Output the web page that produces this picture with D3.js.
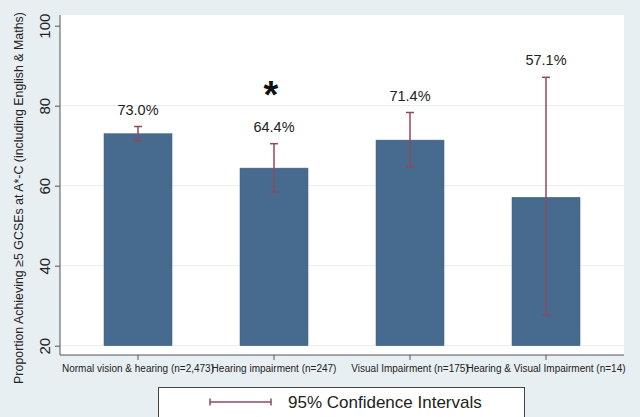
<!DOCTYPE html>
<html><head><meta charset="utf-8">
<script src="https://cdn.jsdelivr.net/npm/d3@7"></script>
<style>body{margin:0;background:#e8eff3;}svg{display:block;font-family:"Liberation Sans",Arial,sans-serif;}</style>
</head><body><svg id="c" width="640" height="417"></svg>
<script>
const categories = ["Normal vision & hearing (n=2,473)", "Hearing impairment (n=247)", "Visual Impairment (n=175)", "Hearing & Visual Impairment (n=14)"];
const values = [73.0, 64.4, 71.4, 57.1];
const ciLow = [71.2, 58.4, 64.7, 27.7];
const ciHigh = [74.8, 70.5, 78.3, 87.1];
const valueLabels = ["73.0%", "64.4%", "71.4%", "57.1%"];
const significant = [false, true, false, false];
const yTicks = [20, 40, 60, 80, 100];
const legendLabel = "95% Confidence Intervals";
const yTitle = "Proportion Achieving \u22655 GCSEs at A*-C (including English & Maths)";

const svg = d3.select("#c");
svg.append("rect").attr("width",640).attr("height",417).attr("fill","#e8eff3");
svg.append("rect").attr("x",60).attr("y",15).attr("width",564).attr("height",340).attr("fill","#ffffff");

const x = d3.scaleBand().domain(categories).range([104,580]).paddingInner(0.5).paddingOuter(0);
const y = d3.scaleLinear().domain([20,100]).range([345.7,25.7]);

// grid
svg.selectAll(".grid").data(yTicks.filter(t=>t<100)).enter().append("line")
  .attr("x1",60).attr("x2",624).attr("y1",d=>y(d)).attr("y2",d=>y(d))
  .attr("stroke","#e6ecf0").attr("stroke-width",1);

// bars
svg.selectAll(".bar").data(categories).enter().append("rect")
  .attr("x",d=>x(d)).attr("width",x.bandwidth())
  .attr("y",(d,i)=>y(values[i])).attr("height",(d,i)=>y(20)-y(values[i]))
  .attr("fill","#466b8e").attr("stroke","#3d5f80").attr("stroke-width",0.5);

// error bars
const ec = "#8e4a5a";
categories.forEach((c,i)=>{
  const cx = x(c)+x.bandwidth()/2;
  const g = svg.append("g").attr("stroke",ec).attr("stroke-width",1.5);
  g.append("line").attr("x1",cx).attr("x2",cx).attr("y1",y(ciLow[i])).attr("y2",y(ciHigh[i]));
  g.append("line").attr("x1",cx-4).attr("x2",cx+4).attr("y1",y(ciLow[i])).attr("y2",y(ciLow[i]));
  g.append("line").attr("x1",cx-4).attr("x2",cx+4).attr("y1",y(ciHigh[i])).attr("y2",y(ciHigh[i]));
  svg.append("text").attr("x",cx).attr("y",y(ciHigh[i])-12).attr("text-anchor","middle")
    .attr("font-size",14.5).attr("fill","#222").text(valueLabels[i]);
  if (significant[i]) {
    svg.append("text").attr("x",cx-3).attr("y",y(ciHigh[i])-36).attr("text-anchor","middle")
      .attr("font-size",38).attr("font-weight","bold").attr("fill","#111").text("*");
  }
});

// axes
const yAxis = svg.append("g").attr("transform","translate(60,0)")
  .call(d3.axisLeft(y).tickValues(yTicks).tickSize(5).tickPadding(4));
yAxis.select(".domain").attr("d","M0,15V355").attr("stroke","#555");
yAxis.selectAll(".tick line").attr("stroke","#555");
yAxis.selectAll(".tick text").attr("font-size",15).attr("fill","#222")
  .attr("transform","rotate(-90)").attr("x",0).attr("y",-10).attr("dy","0").attr("text-anchor","middle");

const xAxis = svg.append("g").attr("transform","translate(0,355)")
  .call(d3.axisBottom(x).tickSize(5).tickPadding(5));
xAxis.select(".domain").attr("d","M60,0H624").attr("stroke","#555");
xAxis.selectAll(".tick line").attr("stroke","#555");
xAxis.selectAll(".tick text").attr("font-size",10)
  .attr("font-family","'Liberation Sans Narrow','Arial Narrow','Liberation Sans',sans-serif")
  .attr("fill","#222");

svg.append("text").attr("transform","translate(23,198) rotate(-90)").attr("text-anchor","middle")
  .attr("font-size",12.4).attr("fill","#222").text(yTitle);

// legend
svg.append("rect").attr("x",158.5).attr("y",387.5).attr("width",366).attr("height",32)
  .attr("fill","#fff").attr("stroke","#444").attr("stroke-width",1);
const lg = svg.append("g").attr("stroke",ec).attr("stroke-width",1.5);
lg.append("line").attr("x1",210).attr("x2",271).attr("y1",402).attr("y2",402);
lg.append("line").attr("x1",210).attr("x2",210).attr("y1",398.5).attr("y2",405.5);
lg.append("line").attr("x1",271).attr("x2",271).attr("y1",398.5).attr("y2",405.5);
svg.append("text").attr("x",288).attr("y",408).attr("font-size",17).attr("fill","#222").text(legendLabel);
</script></body></html>
